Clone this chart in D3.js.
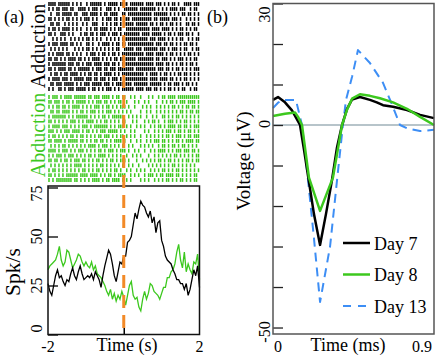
<!DOCTYPE html>
<html>
<head>
<meta charset="utf-8">
<script src="https://cdn.jsdelivr.net/npm/d3@7"></script>
<style>
  body { margin: 0; background: #fff; }
  svg { display: block; }
</style>
</head>
<body>
<div id="wrapper"></div>
<script>
// raster rows: one char per time bin over -2..2 s, "1" = spike
const adductionRows = [
  "1111.111111.1.1.1..1.111111.1.11111.11" + "11.1111111.1111.111.1.1.11.1..1111.111",
  "1.1.11.111.11..1111.1.111.1..111.1.1.." + "1111111.11111111.1.1.1.1111.111..1.11.",
  ".1..11.11111.11..111.1111.1.11.1111..1" + "1.111111111111.1111111.1.1.1.11.11.1.1",
  "11.1.1.1.11.1.1.1.111.1.1..1.111.11.1." + "111.1111111111.11.11111.111.1..1.1.1.1",
  ".11.11..1.1.1.1..1.1..111..1.1.1.11.1." + "11111.111111.11.1.11.1.11.1.1..11.11.1",
  "1.11.1.1111.1.1.1..1.1.11.1111.1.1.11." + ".111111111111.1111.1111.1.1.11.1.1.11.",
  "11.1..111.1.1...1.11.11.1.111.1.111.1." + "11111111.1111.11111.1.11.1.111.11.1..1",
  "..1.1.1.1..1.1.1.1.11.1.1.1..1.1.1.1.1" + "111111111111.111.1111.1.1.1.11..1.1.11",
  "1.111.1111.11.1.1..11.1..1.1111.1.11.1" + "1.1111111111111.111.11.11.1.1.11.11.1.",
  ".1.1.1.1.1...1.1.1.11.1.1.1.1.1.1.11.." + "11111.111.1111111.111.1.111.1.11..1.11",
  "1.1.1111.11.1.1.1..1.111.1.11.1.11.1.1" + "1111111111.1111.1111.1.11.1.1.1.11.1.1",
  "11.11.1.1.1111.11.1.1.1111.1.1.1.11.11" + "111111.11111111.11.111.1.1.111.1.1.11.",
  "1.1111111.111.11.1.111.1111.111.11.1.1" + "111111111111111.1111.11.1.1.11.1.11.1.",
  "11.1.1111.11.1.111111.1.111.11.111.111" + "11111.1111111111.111.11.1.11.1.1.1.111",
  ".1.11.1.11.1111.1.1.11.11.1.1111.1.1.1" + "1111111111.1.1111.1.11.1.1.11.11.1.1.1",
  "1.1111.111.1.11111.111.11.111.1.111.1." + "111111111111.1111.1111.11.1.1.11.1.1.1",
  ".11.111.11111.1.1.111.11111.111.1.1111" + "1111.1111111.111111.1.11.111.1.11.1.1.",
  "1.1..11.1.111.11111.1.11.1.1.111.1.1.1" + "11111.1111.111.11.1.1.11.1.1.11..1.11."
];
const abductionRows = [
  "1.111.1.1111.111111.11.111.1111.1.11.1" + "1..1.1..1...1.1..1.11.1111.11111111111",
  "11.111.1.11.1.11111.1.1.111.11.1.1.11." + ".1...1.1..1.1...1..1.1.11.1.111.1111.1",
  "1.1.11.11.1.1111.1.1.1.111.1.11.1.1.11" + "1.1..1...1.1.1..1.1.1.1.11.1.1.11.11.1",
  ".11.11.1111.1.1.11.1.111.1.1.111.1.1.1" + ".1.1....1..1.1..1.1.1.1.1.1.11.1.11.11",
  "1.1111111.1.1.111111.1.1.1.11.1.111111" + "..1.1.1.1..1..1.1..11.1.1.11.1.1.1.1.1",
  "11.1.1.1.1.111.1.1.1111.1.1.11.1.1.1.1" + "1...1.1...1.1.11.1..1.111.1.1.11.1.1.1",
  "1.1111.111.1.1.1.111.1.1111111.1.1.111" + ".1.1..1.1.1..1.1.11.1.1111.11.11.1.111",
  "111.1.1.111.1111.1.11.1.1.111.11111.1." + "1..1.1....1.1..1.1.1.111.1.11.1.11.1.1",
  "1.11.1.1.1.11.1.11.1.1.1.11.111.1.1.11" + ".1.1.1..1..1.1.1.1.1.11.1.111.1.11.111",
  "11.1111.1.11111.11.1.1.11.11.1.1.1111." + "1..1..1.1..1.1.111.11.1.1.11.1.1111.11",
  ".1.1.1.11.1.1.1.1.1.1111.1.111.1.1.1.1" + "..1.1...1.1.1.1..1.11.1.11.1.11.1.1.1.",
  "1111.1.111.1.1.111.1.1.1.11.1.111.1.11" + "1.1..1.1..1..1.1.1111.1.1.111.111.11.1",
  "1.1.111.1.111.1.1.1.11.1.1111.1.1.1.1." + ".1..1.1.1...1..1.1.1.1.1.11.1.1.1.1.11",
  "11.11.1.11.1.111.11.1.1.11.1.1.11.1.11" + "1.1...1..1.1.1.1.11.1.11.1.1.1.11.1.11",
  ".1.1.1.1.1.1.1111.1.1.1.1.11.1.1.1.1.1" + "..1.1..1....1.1.1.1.1.1.11.1.1.1.1.1..",
  "1.11.1.1.1.1.1.1.11.1.1.11.1.1.1.11.1." + ".1.1..1.1.1..1.1.1.11.1.1.11.1.1.1.1.1",
  "11.1.1.1.111111.1111.1111.1.1.11.1.111" + "1..1.1.1..1.111.1.11.1111.11.1.1.1.11.",
  "1.1.11111111.11.1.1.1.1111.1.11.1111.1" + ".1.1....1.1.1..1.1.1.11.1.1.11.1.1.11."
];

// PSTH, bins every 0.05 s from -2 to 2
const psthStep = 0.05;
const adductionRate = [26, 22, 20, 25, 30, 33, 29, 30, 27, 25, 28, 27, 31, 34, 30, 28, 32, 35, 31, 28,
  29, 30, 29, 31, 28, 32, 30, 28, 24, 30, 35, 39, 43, 41, 36, 30, 27, 32, 37, 36,
  40, 40, 47, 48, 50, 56, 62, 59, 64, 68, 66, 65, 62, 60, 63, 57, 60, 52, 57, 58,
  48, 45, 40, 38, 37, 36, 33, 31, 28, 28, 26, 26, 23, 26, 20, 23, 28, 33, 30, 35, 24];
const abductionRate = [33, 35, 36, 37, 38, 41, 45, 38, 35, 37, 43, 42, 38, 34, 36, 38, 41, 40, 37, 35,
  37, 35, 34, 37, 33, 35, 31, 30, 29, 27, 25, 22, 20, 23, 18, 21, 17, 20, 18, 22,
  19, 15, 20, 25, 27, 20, 18, 19, 14, 12, 18, 22, 18, 21, 26, 25, 22, 21, 20, 18,
  21, 24, 24, 29, 29, 32, 33, 36, 42, 46, 38, 34, 42, 32, 36, 33, 31, 37, 36, 41, 28];
const rateTicks = [0, 25, 50, 75];

// waveforms: [time (ms), voltage (uV)]
const day7 = [[0, 6.2], [0.028, 6.9], [0.067, 5.6], [0.106, 3.6], [0.134, 1.4], [0.151, 0], [0.173, -6],
  [0.201, -14], [0.229, -22], [0.263, -29.6], [0.296, -22], [0.330, -13.5], [0.358, -5.5], [0.386, 0],
  [0.414, 4], [0.442, 6.3], [0.486, 6.9], [0.542, 6.2], [0.580, 5.6], [0.615, 4.9], [0.671, 4.5],
  [0.749, 3.7], [0.822, 2.5], [0.9, 1.7]];
const day8 = [[0, 2.2], [0.067, 2.8], [0.123, 3.1], [0.140, 2.0], [0.162, 0], [0.201, -13], [0.263, -21.2],
  [0.335, -13], [0.386, 0], [0.414, 3.8], [0.442, 6.5], [0.486, 7.6], [0.542, 7.2], [0.598, 6.6],
  [0.671, 5.6], [0.749, 4.0], [0.822, 2.0], [0.9, 0]];
const day13 = [[0, 4.2], [0.028, 5.5], [0.056, 6.2], [0.128, 6.2], [0.162, 0], [0.196, -13.6], [0.229, -28],
  [0.263, -43.7], [0.319, -30], [0.358, -13.6], [0.391, 0], [0.408, 6.2], [0.442, 11.9], [0.475, 18.5],
  [0.542, 15.3], [0.615, 10.4], [0.671, 4.4], [0.710, 0], [0.749, -0.8], [0.822, -1.5], [0.9, -1.2]];
const voltTicks = [-50, -40, -30, -20, -10, 0, 10, 20, 30];
const voltLabels = [30, 0, -50];
const legendNames = ["Day 7", "Day 8", "Day 13"];

const green = "#3cc81e";
const blue = "#3d8ef5";
const orange = "#f28a28";

const svg = d3.select("#wrapper").append("svg")
  .attr("width", 436)
  .attr("height", 359)
  .style("font-family", "'Liberation Serif', 'Times New Roman', serif");

// ---------- panel (a) ----------
const xTime = d3.scaleLinear().domain([-2, 2]).range([48, 199.5]);
const yRate = d3.scaleLinear().domain([0, 75]).range([334.5, 187.5]);
const yAdd = d3.scalePoint().domain(d3.range(adductionRows.length)).range([4, 89]);
const yAbd = d3.scalePoint().domain(d3.range(abductionRows.length)).range([97, 180]);

function drawRaster(rows, yScale, color) {
  const g = svg.append("g");
  rows.forEach((row, r) => {
    const spikes = [];
    for (let i = 0; i < row.length; i++) {
      if (row[i] === "1") spikes.push(-2 + (i + 0.5) * 4 / row.length);
    }
    g.append("g").selectAll("line")
      .data(spikes)
      .join("line")
      .attr("x1", d => xTime(d))
      .attr("x2", d => xTime(d))
      .attr("y1", yScale(r) - 1.9)
      .attr("y2", yScale(r) + 1.9)
      .attr("stroke", color)
      .attr("stroke-width", 1.5);
  });
}
drawRaster(adductionRows, yAdd, "#000");
drawRaster(abductionRows, yAbd, green);

const rateLine = d3.line()
  .x((d, i) => xTime(-2 + i * psthStep))
  .y(d => yRate(d));

svg.append("path")
  .datum(abductionRate)
  .attr("d", rateLine)
  .attr("fill", "none")
  .attr("stroke", green)
  .attr("stroke-width", 1.3);

svg.append("path")
  .datum(adductionRate)
  .attr("d", rateLine)
  .attr("fill", "none")
  .attr("stroke", "#000")
  .attr("stroke-width", 1.3);

// inward ticks
svg.append("g")
  .attr("transform", "translate(48,0)")
  .call(d3.axisLeft(yRate).tickValues(rateTicks).tickSize(-10).tickFormat(""))
  .call(g => g.select(".domain").remove())
  .selectAll("line").attr("stroke", "#000").attr("stroke-width", 1.3);

svg.append("g")
  .attr("transform", "translate(0,334.5)")
  .call(d3.axisBottom(xTime).tickValues([0]).tickSize(-10).tickFormat(""))
  .call(g => g.select(".domain").remove())
  .selectAll("line").attr("stroke", "#000").attr("stroke-width", 1.5);

svg.append("rect")
  .attr("x", xTime(-2))
  .attr("y", 186)
  .attr("width", xTime(2) - xTime(-2))
  .attr("height", 334.5 - 186)
  .attr("fill", "none")
  .attr("stroke", "#111")
  .attr("stroke-width", 1.5);

svg.selectAll(".rate-label")
  .data(rateTicks)
  .join("text")
  .attr("class", "rate-label")
  .attr("transform", d => `translate(42,${yRate(d) + (d === 75 ? 6 : d === 0 ? -6 : 0)}) rotate(-90)`)
  .attr("text-anchor", "middle")
  .attr("font-size", 16)
  .text(d => d);

svg.selectAll(".time-label")
  .data([-2, 2])
  .join("text")
  .attr("class", "time-label")
  .attr("x", d => xTime(d))
  .attr("y", 352)
  .attr("text-anchor", "middle")
  .attr("font-size", 16)
  .text(d => d);

svg.append("text")
  .attr("x", 127).attr("y", 351)
  .attr("text-anchor", "middle")
  .attr("font-size", 18)
  .text("Time (s)");

svg.append("text")
  .attr("transform", "translate(20,272) rotate(-90)")
  .attr("text-anchor", "middle")
  .attr("font-size", 21.5)
  .text("Spk/s");

svg.append("text")
  .attr("transform", "translate(45,46) rotate(-90)")
  .attr("text-anchor", "middle")
  .attr("font-size", 20)
  .text("Adduction");

svg.append("text")
  .attr("transform", "translate(45,135) rotate(-90)")
  .attr("text-anchor", "middle")
  .attr("font-size", 20)
  .attr("fill", green)
  .text("Abduction");

svg.append("text")
  .attr("x", 4).attr("y", 23)
  .attr("font-size", 18)
  .text("(a)");

// stimulus onset
svg.append("line")
  .attr("x1", xTime(0)).attr("x2", xTime(0))
  .attr("y1", -5).attr("y2", 334)
  .attr("stroke", orange)
  .attr("stroke-width", 3)
  .attr("stroke-dasharray", "13,7");

// ---------- panel (b) ----------
const xMs = d3.scaleLinear().domain([0, 0.9]).range([273, 434]);
const yVolt = d3.scaleLinear().domain([-51.6, 30]).range([334, 3.5]);

svg.append("line")
  .attr("x1", xMs(0)).attr("x2", xMs(0.9))
  .attr("y1", yVolt(0)).attr("y2", yVolt(0))
  .attr("stroke", "#9fb0b8")
  .attr("stroke-width", 1.3);

const waveLine = d3.line()
  .x(d => xMs(d[0]))
  .y(d => yVolt(d[1]));

const series = [
  { data: day13, color: blue, width: 2, dash: "9,6" },
  { data: day7, color: "#000", width: 2.5, dash: null },
  { data: day8, color: green, width: 2.5, dash: null }
];
series.forEach(s => {
  svg.append("path")
    .datum(s.data)
    .attr("d", waveLine)
    .attr("fill", "none")
    .attr("stroke", s.color)
    .attr("stroke-width", s.width)
    .attr("stroke-linejoin", "round")
    .attr("stroke-dasharray", s.dash);
});

svg.append("g")
  .attr("transform", "translate(273,0)")
  .call(d3.axisLeft(yVolt).tickValues(voltTicks).tickSize(-10).tickFormat(""))
  .call(g => g.select(".domain").remove())
  .selectAll("line").attr("stroke", "#222").attr("stroke-width", 1.3);

svg.append("rect")
  .attr("x", xMs(0))
  .attr("y", yVolt(30))
  .attr("width", xMs(0.9) - xMs(0))
  .attr("height", 334 - yVolt(30))
  .attr("fill", "none")
  .attr("stroke", "#555")
  .attr("stroke-width", 1.5);

svg.selectAll(".volt-label")
  .data(voltLabels)
  .join("text")
  .attr("class", "volt-label")
  .attr("transform", d => `translate(270,${yVolt(d) + (d === 30 ? 11 : d === -50 ? 4.5 : -1)}) rotate(-90)`)
  .attr("text-anchor", "middle")
  .attr("font-size", 16)
  .text(d => d);

svg.append("text")
  .attr("x", xMs(0) + 5).attr("y", 352)
  .attr("text-anchor", "middle")
  .attr("font-size", 16)
  .text("0");

svg.append("text")
  .attr("x", xMs(0.9) - 12).attr("y", 352)
  .attr("text-anchor", "middle")
  .attr("font-size", 16)
  .text("0.9");

svg.append("text")
  .attr("x", 348).attr("y", 351)
  .attr("text-anchor", "middle")
  .attr("font-size", 18)
  .text("Time (ms)");

svg.append("text")
  .attr("transform", "translate(250,161) rotate(-90)")
  .attr("text-anchor", "middle")
  .attr("font-size", 19)
  .text("Voltage (\u03bcV)");

svg.append("text")
  .attr("x", 207).attr("y", 23)
  .attr("font-size", 18)
  .text("(b)");

// legend
const legendY = d3.scalePoint().domain(legendNames).range([243, 306]);
const legendStyle = [series[1], series[2], series[0]];
const legend = svg.append("g");
legendNames.forEach((name, i) => {
  const s = legendStyle[i];
  legend.append("line")
    .attr("x1", 343).attr("x2", 370)
    .attr("y1", legendY(name)).attr("y2", legendY(name))
    .attr("stroke", s.color)
    .attr("stroke-width", s.width)
    .attr("stroke-dasharray", s.dash ? "8,7" : null);
  legend.append("text")
    .attr("x", 374)
    .attr("y", legendY(name) + 6.5)
    .attr("font-size", 18)
    .text(name);
});
</script>
</body>
</html>
